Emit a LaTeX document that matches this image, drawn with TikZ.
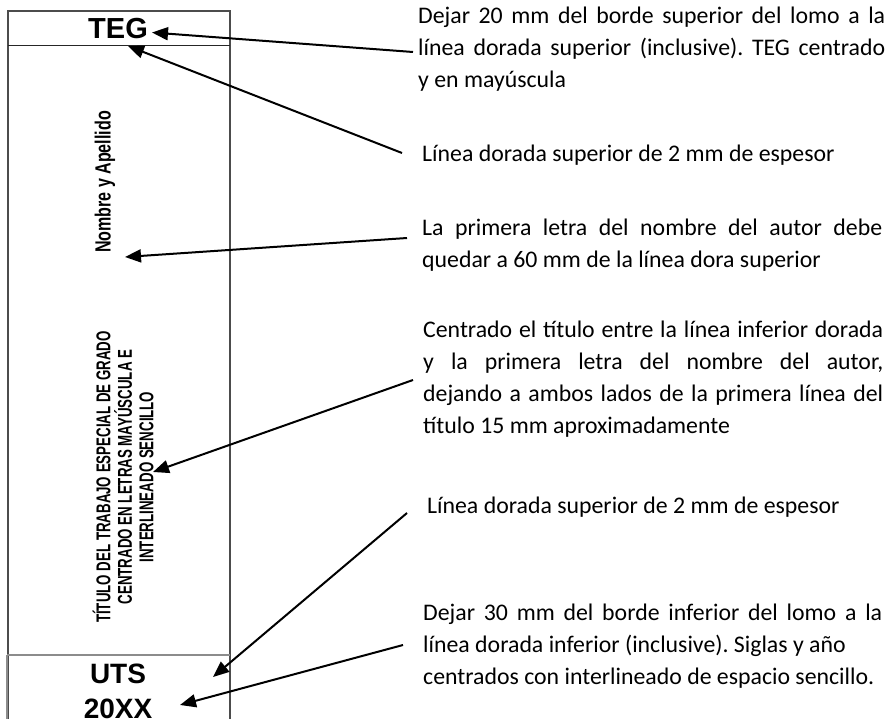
\documentclass[tikz,border=0pt]{standalone}
\usepackage{fontspec}
\setmainfont{Carlito}
\newfontfamily\arialf{Liberation Sans}
\usetikzlibrary{arrows.meta}
\begin{document}
\frenchspacing
\begin{tikzpicture}[x=1pt,y=-1pt,
  conn/.style={line width=2pt,-{Triangle[length=16pt,width=13pt]}},
  note/.style={anchor=base west,inner sep=0pt,align=left,font=\fontsize{23.8}{32}\selectfont\frenchspacing},
  boxline/.style={line width=1.6pt,draw=black!70},
  lowline/.style={line width=1.4pt,draw=black!45},
  big/.style={inner sep=0pt,font=\arialf\bfseries\fontsize{29}{36}\selectfont},
  rot/.style={inner sep=0pt,rotate=90,align=center}]
\useasboundingbox (0,0) rectangle (888,719);
% spine
\draw[boxline] (8,730) -- (8,11) -- (230,11) -- (230,730);
\draw[boxline,draw=black!85] (8,45.5) -- (230,45.5);
\draw[lowline] (7,655) -- (230,655);
\draw[lowline] (7,655) -- (7,730);
% left texts
\node[big,anchor=base] (teg) at (118,39) {TEG};
\node[big,anchor=base,font=\arialf\bfseries\fontsize{28}{36}\selectfont] (uts) at (118,683) {UTS};
\node[big,anchor=base,font=\arialf\bfseries\fontsize{28}{36}\selectfont] (year) at (118,718) {20XX};
\node[rot,font=\arialf\bfseries\fontsize{22}{24}\selectfont] (nombre) at (105,182) {\scalebox{0.73}[1]{Nombre y Apellido}};
\node[rot,font=\arialf\bfseries\fontsize{20}{21.5}\selectfont] (titulo) at (123,477)
  {\scalebox{0.665}[1]{TÍTULO DEL TRABAJO ESPECIAL DE GRADO}\\
   \scalebox{0.665}[1]{CENTRADO EN LETRAS MAYÚSCULA E}\\
   \scalebox{0.665}[1]{INTERLINEADO SENCILLO}};
% right notes (anchored at the baseline of their last line)
\node[note] (n1) at (418,88) {\makebox[467pt][s]{Dejar 20 mm del borde superior del lomo a la}\\
  \makebox[467pt][s]{línea dorada superior (inclusive). TEG centrado}\\
  y en mayúscula};
\node[note] (n2) at (422,162) {Línea dorada superior de 2 mm de espesor};
\node[note] (n3) at (422,267) {\makebox[460pt][s]{La primera letra del nombre del autor debe}\\
  quedar a 60 mm de la línea dora superior};
\node[note] (n4) at (423,433) {\makebox[460pt][s]{Centrado el título entre la línea inferior dorada}\\
  \makebox[460pt][s]{y la primera letra del nombre del autor,}\\
  \makebox[460pt][s]{dejando a ambos lados de la primera línea del}\\
  título 15 mm aproximadamente};
\node[note] (n5) at (427,513) {Línea dorada superior de 2 mm de espesor};
\node[note] (n6) at (423,684) {\makebox[459pt][s]{Dejar 30 mm del borde inferior del lomo a la}\\
  línea dorada inferior (inclusive). Siglas y año\\
  centrados con interlineado de espacio sencillo.};
% connector ends
\coordinate (s1) at (413,52);   \coordinate (t1) at (152,32.5);
\coordinate (s2) at (402,153);  \coordinate (t2) at (128,46);
\coordinate (s3) at (407,238);  \coordinate (t3) at (125,257);
\coordinate (s4) at (413,380);  \coordinate (t4) at (153,472);
\coordinate (s5) at (407,513);  \coordinate (t5) at (213,677);
\coordinate (s6) at (403,645);  \coordinate (t6) at (180,705);
\draw[conn] (s1) -- (t1);
\draw[conn] (s2) -- (t2);
\draw[conn] (s3) -- (t3);
\draw[conn] (s4) -- (t4);
\draw[conn] (s5) -- (t5);
\draw[conn] (s6) -- (t6);
\end{tikzpicture}
\end{document}
